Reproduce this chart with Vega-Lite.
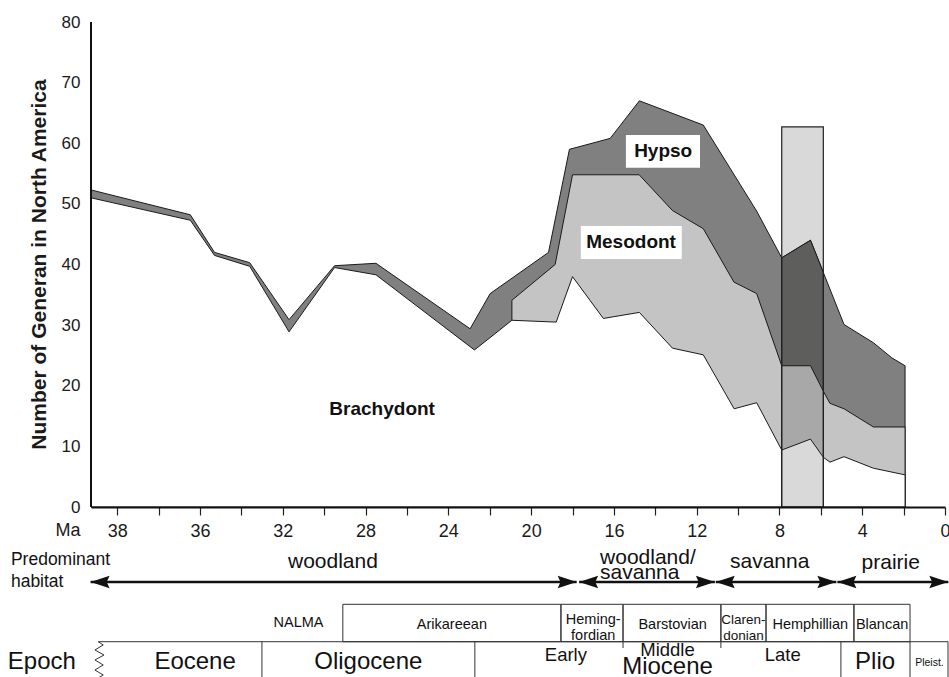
{
  "$schema": "https://vega.github.io/schema/vega-lite/v6.json",
  "width": 854,
  "height": 655,
  "autosize": {"type": "none"},
  "padding": {"left": 91, "top": 22, "right": 4, "bottom": 0},
  "background": "white",
  "config": {"view": {"stroke": null}, "font": "Liberation Sans", "text": {"font": "Liberation Sans", "color": "#111"}},
  "datasets": {
    "band": [{"ma": 7.89, "ma_end": 5.88, "v": 0, "v_end": 62.7}],
    "total": [
      {"ma": 41.27, "v": 52.3}, {"ma": 36.47, "v": 48.2}, {"ma": 35.3, "v": 42.0}, {"ma": 33.6, "v": 40.3},
      {"ma": 31.7, "v": 30.9}, {"ma": 29.5, "v": 39.8}, {"ma": 27.5, "v": 40.2}, {"ma": 22.95, "v": 29.4},
      {"ma": 21.98, "v": 35.2}, {"ma": 19.16, "v": 42.0}, {"ma": 18.15, "v": 59.0}, {"ma": 16.18, "v": 60.8},
      {"ma": 14.77, "v": 67.0}, {"ma": 11.68, "v": 63.0}, {"ma": 9.1, "v": 48.8}, {"ma": 7.89, "v": 41.1},
      {"ma": 6.5, "v": 44.0}, {"ma": 4.88, "v": 30.1}, {"ma": 3.46, "v": 27.1}, {"ma": 2.57, "v": 24.6},
      {"ma": 1.93, "v": 23.3}
    ],
    "meso": [
      {"ma": 20.93, "v": 34.1}, {"ma": 18.84, "v": 40.0}, {"ma": 18.0, "v": 54.8}, {"ma": 14.78, "v": 54.8},
      {"ma": 13.17, "v": 48.9}, {"ma": 11.68, "v": 45.9}, {"ma": 10.2, "v": 37.1}, {"ma": 9.1, "v": 35.2},
      {"ma": 7.89, "v": 23.3}, {"ma": 6.5, "v": 23.3}, {"ma": 5.88, "v": 19.1}, {"ma": 5.56, "v": 17.1},
      {"ma": 4.88, "v": 16.2}, {"ma": 3.46, "v": 13.2}, {"ma": 1.93, "v": 13.2}
    ],
    "brachy": [
      {"ma": 41.27, "v": 51.0}, {"ma": 36.47, "v": 47.3}, {"ma": 35.3, "v": 41.5}, {"ma": 33.6, "v": 39.7},
      {"ma": 31.7, "v": 28.9}, {"ma": 29.5, "v": 39.5}, {"ma": 27.5, "v": 38.3}, {"ma": 22.74, "v": 25.9},
      {"ma": 20.93, "v": 30.8}, {"ma": 18.79, "v": 30.5}, {"ma": 18.0, "v": 38.0}, {"ma": 16.51, "v": 31.1},
      {"ma": 14.77, "v": 32.1}, {"ma": 13.17, "v": 26.2}, {"ma": 11.68, "v": 25.1}, {"ma": 10.19, "v": 16.2},
      {"ma": 9.1, "v": 17.2}, {"ma": 7.89, "v": 9.4}, {"ma": 6.5, "v": 11.2}, {"ma": 5.88, "v": 8.2},
      {"ma": 5.56, "v": 7.4}, {"ma": 4.88, "v": 8.3}, {"ma": 3.46, "v": 6.4}, {"ma": 1.93, "v": 5.3}
    ],
    "band_total": [{"ma": 7.89, "v": 41.1}, {"ma": 6.5, "v": 44.0}, {"ma": 5.88, "v": 38.7}],
    "band_meso": [{"ma": 7.89, "v": 23.3}, {"ma": 6.5, "v": 23.3}, {"ma": 5.88, "v": 19.1}],
    "band_brachy": [{"ma": 7.89, "v": 9.4}, {"ma": 6.5, "v": 11.2}, {"ma": 5.88, "v": 8.2}],
    "label_boxes": [
      {"ma": 15.42, "ma_end": 11.84, "v": 61.36, "v_end": 55.97},
      {"ma": 17.6, "ma_end": 12.72, "v": 46.35, "v_end": 40.91}
    ],
    "series_labels": [
      {"label": "Hypso", "ma": 13.62, "v": 58.72},
      {"label": "Mesodont", "ma": 15.17, "v": 43.63},
      {"label": "Brachydont", "ma": 27.2, "v": 16.12}
    ],
    "habitat": [
      {"label": "woodland", "ma": 41.29, "ma_end": 17.8, "v": -12.37},
      {"label": "woodland/savanna", "ma": 17.68, "ma_end": 11.12, "v": -12.37},
      {"label": "savanna", "ma": 11.08, "ma_end": 5.25, "v": -12.37},
      {"label": "prairie", "ma": 5.2, "ma_end": -0.16, "v": -12.37}
    ],
    "habitat_text": [
      {"label": "woodland", "ma": 31.75, "v": -9.07},
      {"label": "savanna", "ma": 10.39, "v": -9.02},
      {"label": "prairie", "ma": 4.03, "v": -9.29}
    ],
    "habitat_text2": [
      {"label": "woodland/\nsavanna", "ma": 16.67, "v": -8.35}
    ],
    "nalma": [
      {"label": "Arikareean", "ma": 29.1, "ma_end": 18.56, "v": -16.05, "v_end": -22.22},
      {"label": "Hemingfordian", "ma": 18.56, "ma_end": 15.56, "v": -16.05, "v_end": -22.22},
      {"label": "Barstovian", "ma": 15.56, "ma_end": 10.83, "v": -16.05, "v_end": -22.22},
      {"label": "Clarendonian", "ma": 10.83, "ma_end": 8.65, "v": -16.05, "v_end": -22.22},
      {"label": "Hemphillian", "ma": 8.65, "ma_end": 4.4, "v": -16.05, "v_end": -22.22},
      {"label": "Blancan", "ma": 4.4, "ma_end": 1.69, "v": -16.05, "v_end": -22.22}
    ],
    "nalma_text": [
      {"label": "NALMA", "ma": 31.24, "v": -19.18},
      {"label": "Arikareean", "ma": 23.83, "v": -19.46},
      {"label": "Barstovian", "ma": 13.16, "v": -19.46},
      {"label": "Hemphillian", "ma": 6.51, "v": -19.46},
      {"label": "Blancan", "ma": 3.04, "v": -19.46}
    ],
    "nalma_text_two": [
      {"label": "Heming-\nfordian", "ma": 17.0, "v": -18.59}
    ],
    "nalma_text_small": [
      {"label": "Claren-\ndonian", "ma": 9.74, "v": -18.59}
    ],
    "epoch_lines": [
      {"ma": 40.92, "ma_end": -0.145, "v": -22.22, "v_end": -22.22},
      {"ma": 33.01, "ma_end": 33.01, "v": -22.22, "v_end": -30},
      {"ma": 22.72, "ma_end": 22.72, "v": -22.22, "v_end": -30},
      {"ma": 5.03, "ma_end": 5.03, "v": -22.22, "v_end": -30},
      {"ma": 1.69, "ma_end": 1.69, "v": -22.22, "v_end": -30},
      {"ma": -0.145, "ma_end": -0.145, "v": -22.22, "v_end": -30},
      {"ma": 15.56, "ma_end": 15.56, "v": -22.22, "v_end": -23.26},
      {"ma": 10.83, "ma_end": 10.83, "v": -22.22, "v_end": -23.26}
    ],
    "zigzag": [
      {"k": 0, "ma": 40.92, "v": -22.22}, {"k": 1, "ma": 40.68, "v": -22.76}, {"k": 2, "ma": 41.08, "v": -23.58},
      {"k": 3, "ma": 40.64, "v": -24.41}, {"k": 4, "ma": 41.08, "v": -25.23}, {"k": 5, "ma": 40.68, "v": -26.06},
      {"k": 6, "ma": 41.08, "v": -26.89}, {"k": 7, "ma": 40.68, "v": -27.71}, {"k": 8, "ma": 41.08, "v": -28.54}
    ],
    "epoch_big": [
      {"label": "Eocene", "ma": 36.24, "v": -25.57},
      {"label": "Oligocene", "ma": 27.87, "v": -25.57},
      {"label": "Miocene", "ma": 13.41, "v": -26.34},
      {"label": "Plio", "ma": 3.38, "v": -25.57}
    ],
    "epoch_sub": [
      {"label": "Early", "ma": 18.32, "v": -24.41},
      {"label": "Middle", "ma": 13.41, "v": -23.59},
      {"label": "Late", "ma": 7.84, "v": -24.41}
    ],
    "epoch_tiny": [{"label": "Pleist.", "ma": 0.75, "v": -25.73}],
    "row_title_small": [{"label": "Predominant\nhabitat", "ma": 45.14, "v": -8.68}],
    "row_title_big": [{"label": "Epoch", "ma": 45.29, "v": -25.57}]
  },
  "layer": [
    {
      "data": {"name": "band"},
      "mark": {"type": "rect", "fill": "#d9d9d9", "strokeWidth": 0},
      "encoding": {
        "x": {
          "field": "ma", "type": "quantitative",
          "scale": {"domain": [0, 41.27], "reverse": true, "nice": false, "zero": false},
          "axis": {
            "orient": "bottom", "offset": -170,
            "values": [0, 2, 4, 6, 8, 10, 12, 14, 16, 18, 20, 22, 24, 26, 28, 30, 32, 34, 36, 38, 40],
            "labelExpr": "datum.value == 40 ? '38' : (datum.value % 4 == 0 ? datum.label : '')",
            "labelOverlap": false, "labelFlush": false, "labelFontSize": 18, "labelColor": "#1a1a1a",
            "labelPadding": 7, "tickSize": 8, "tickColor": "#222", "tickWidth": 1.2,
            "domainColor": "#111", "domainWidth": 2, "grid": false,
            "title": "Ma", "titleFontSize": 18, "titleFontWeight": "normal", "titleColor": "#1a1a1a",
            "titleX": -23.5, "titleY": 23, "titleAlign": "center", "titleBaseline": "middle", "zindex": 2
          }
        },
        "x2": {"field": "ma_end"},
        "y": {
          "field": "v", "type": "quantitative",
          "scale": {"domain": [-28.04, 80], "nice": false, "zero": false},
          "axis": {
            "values": [0, 10, 20, 30, 40, 50, 60, 70, 80],
            "domain": false, "ticks": false, "tickSize": 0, "grid": false,
            "labelFontSize": 17, "labelColor": "#1a1a1a", "labelPadding": 11,
            "title": "Number of Generan in North America", "titleFontSize": 21, "titleFontWeight": "bold",
            "titleColor": "#1a1a1a", "titleAngle": -90, "titleX": -46, "titleY": 242,
            "titleAlign": "center", "titleBaseline": "alphabetic"
          }
        },
        "y2": {"field": "v_end"}
      }
    },
    {
      "data": {"name": "total"},
      "mark": {"type": "area", "fill": "#808080", "stroke": "#1a1a1a", "strokeWidth": 1},
      "encoding": {"x": {"field": "ma", "type": "quantitative"}, "y": {"field": "v", "type": "quantitative"}, "y2": {"datum": 0}}
    },
    {
      "data": {"name": "meso"},
      "mark": {"type": "area", "fill": "#c3c4c3", "stroke": "#1a1a1a", "strokeWidth": 1},
      "encoding": {"x": {"field": "ma", "type": "quantitative"}, "y": {"field": "v", "type": "quantitative"}, "y2": {"datum": 0}}
    },
    {
      "data": {"name": "brachy"},
      "mark": {"type": "area", "fill": "#ffffff", "stroke": "#1a1a1a", "strokeWidth": 1},
      "encoding": {"x": {"field": "ma", "type": "quantitative"}, "y": {"field": "v", "type": "quantitative"}, "y2": {"datum": 0}}
    },
    {
      "data": {"name": "band_total"},
      "mark": {"type": "area", "fill": "#5e5e5c", "stroke": "#1a1a1a", "strokeWidth": 1},
      "encoding": {"x": {"field": "ma", "type": "quantitative"}, "y": {"field": "v", "type": "quantitative"}, "y2": {"datum": 0}}
    },
    {
      "data": {"name": "band_meso"},
      "mark": {"type": "area", "fill": "#a8a8a8", "stroke": "#1a1a1a", "strokeWidth": 1},
      "encoding": {"x": {"field": "ma", "type": "quantitative"}, "y": {"field": "v", "type": "quantitative"}, "y2": {"datum": 0}}
    },
    {
      "data": {"name": "band_brachy"},
      "mark": {"type": "area", "fill": "#d9d9d9", "stroke": "#1a1a1a", "strokeWidth": 1},
      "encoding": {"x": {"field": "ma", "type": "quantitative"}, "y": {"field": "v", "type": "quantitative"}, "y2": {"datum": 0}}
    },
    {
      "data": {"name": "band"},
      "mark": {"type": "rect", "fill": null, "fillOpacity": 0, "stroke": "#222", "strokeWidth": 1.2},
      "encoding": {"x": {"field": "ma", "type": "quantitative"}, "x2": {"field": "ma_end"}, "y": {"field": "v", "type": "quantitative"}, "y2": {"field": "v_end"}}
    },
    {
      "data": {"name": "label_boxes"},
      "mark": {"type": "rect", "fill": "#ffffff", "strokeWidth": 0},
      "encoding": {"x": {"field": "ma", "type": "quantitative"}, "x2": {"field": "ma_end"}, "y": {"field": "v", "type": "quantitative"}, "y2": {"field": "v_end"}}
    },
    {
      "data": {"name": "series_labels"},
      "mark": {"type": "text", "fontSize": 19, "fontWeight": "bold", "align": "center", "baseline": "middle", "color": "#111"},
      "encoding": {"x": {"field": "ma", "type": "quantitative"}, "y": {"field": "v", "type": "quantitative"}, "text": {"field": "label"}}
    },
    {
      "data": {"values": [{"ma": 41.27, "v": 0, "v_end": 80}]},
      "mark": {"type": "rule", "color": "#111", "strokeWidth": 2},
      "encoding": {"x": {"field": "ma", "type": "quantitative"}, "y": {"field": "v", "type": "quantitative"}, "y2": {"field": "v_end"}}
    },
    {
      "data": {"name": "habitat"},
      "mark": {"type": "rule", "color": "#111", "strokeWidth": 2.5},
      "encoding": {"x": {"field": "ma", "type": "quantitative"}, "x2": {"field": "ma_end"}, "y": {"field": "v", "type": "quantitative"}}
    },
    {
      "data": {"name": "habitat"},
      "mark": {"type": "point", "shape": "M0,0L2,-0.65L1.7,0L2,0.65Z", "size": 361, "filled": true, "fill": "#111", "opacity": 1, "strokeWidth": 0},
      "encoding": {"x": {"field": "ma", "type": "quantitative"}, "y": {"field": "v", "type": "quantitative"}}
    },
    {
      "data": {"name": "habitat"},
      "mark": {"type": "point", "shape": "M0,0L-2,-0.65L-1.7,0L-2,0.65Z", "size": 361, "filled": true, "fill": "#111", "opacity": 1, "strokeWidth": 0},
      "encoding": {"x": {"field": "ma_end", "type": "quantitative"}, "y": {"field": "v", "type": "quantitative"}}
    },
    {
      "data": {"name": "habitat_text"},
      "mark": {"type": "text", "fontSize": 21, "align": "left", "baseline": "middle", "color": "#111"},
      "encoding": {"x": {"field": "ma", "type": "quantitative"}, "y": {"field": "v", "type": "quantitative"}, "text": {"field": "label"}}
    },
    {
      "data": {"name": "habitat_text2"},
      "mark": {"type": "text", "fontSize": 21, "align": "left", "baseline": "middle", "lineBreak": "\n", "lineHeight": 15, "color": "#111"},
      "encoding": {"x": {"field": "ma", "type": "quantitative"}, "y": {"field": "v", "type": "quantitative"}, "text": {"field": "label"}}
    },
    {
      "data": {"name": "row_title_small"},
      "mark": {"type": "text", "fontSize": 17.5, "align": "left", "baseline": "middle", "lineBreak": "\n", "lineHeight": 22, "color": "#111"},
      "encoding": {"x": {"field": "ma", "type": "quantitative"}, "y": {"field": "v", "type": "quantitative"}, "text": {"field": "label"}}
    },
    {
      "data": {"name": "nalma"},
      "mark": {"type": "rect", "fill": null, "fillOpacity": 0, "stroke": "#333", "strokeWidth": 1},
      "encoding": {"x": {"field": "ma", "type": "quantitative"}, "x2": {"field": "ma_end"}, "y": {"field": "v", "type": "quantitative"}, "y2": {"field": "v_end"}}
    },
    {
      "data": {"name": "nalma_text"},
      "mark": {"type": "text", "fontSize": 14.5, "align": "center", "baseline": "middle", "color": "#111"},
      "encoding": {"x": {"field": "ma", "type": "quantitative"}, "y": {"field": "v", "type": "quantitative"}, "text": {"field": "label"}}
    },
    {
      "data": {"name": "nalma_text_two"},
      "mark": {"type": "text", "fontSize": 14.5, "align": "center", "baseline": "middle", "lineBreak": "\n", "lineHeight": 16.6, "color": "#111"},
      "encoding": {"x": {"field": "ma", "type": "quantitative"}, "y": {"field": "v", "type": "quantitative"}, "text": {"field": "label"}}
    },
    {
      "data": {"name": "nalma_text_small"},
      "mark": {"type": "text", "fontSize": 13.5, "align": "center", "baseline": "middle", "lineBreak": "\n", "lineHeight": 16.6, "color": "#111"},
      "encoding": {"x": {"field": "ma", "type": "quantitative"}, "y": {"field": "v", "type": "quantitative"}, "text": {"field": "label"}}
    },
    {
      "data": {"name": "epoch_lines"},
      "mark": {"type": "rule", "color": "#333", "strokeWidth": 1},
      "encoding": {"x": {"field": "ma", "type": "quantitative"}, "x2": {"field": "ma_end"}, "y": {"field": "v", "type": "quantitative"}, "y2": {"field": "v_end"}}
    },
    {
      "data": {"name": "zigzag"},
      "mark": {"type": "line", "color": "#333", "strokeWidth": 1},
      "encoding": {"x": {"field": "ma", "type": "quantitative"}, "y": {"field": "v", "type": "quantitative"}, "order": {"field": "k", "type": "quantitative"}}
    },
    {
      "data": {"name": "epoch_big"},
      "mark": {"type": "text", "fontSize": 24, "align": "center", "baseline": "middle", "color": "#111"},
      "encoding": {"x": {"field": "ma", "type": "quantitative"}, "y": {"field": "v", "type": "quantitative"}, "text": {"field": "label"}}
    },
    {
      "data": {"name": "epoch_sub"},
      "mark": {"type": "text", "fontSize": 18.5, "align": "center", "baseline": "middle", "color": "#111"},
      "encoding": {"x": {"field": "ma", "type": "quantitative"}, "y": {"field": "v", "type": "quantitative"}, "text": {"field": "label"}}
    },
    {
      "data": {"name": "epoch_tiny"},
      "mark": {"type": "text", "fontSize": 10.5, "align": "center", "baseline": "middle", "color": "#111"},
      "encoding": {"x": {"field": "ma", "type": "quantitative"}, "y": {"field": "v", "type": "quantitative"}, "text": {"field": "label"}}
    },
    {
      "data": {"name": "row_title_big"},
      "mark": {"type": "text", "fontSize": 24, "align": "left", "baseline": "middle", "color": "#111"},
      "encoding": {"x": {"field": "ma", "type": "quantitative"}, "y": {"field": "v", "type": "quantitative"}, "text": {"field": "label"}}
    }
  ]
}
